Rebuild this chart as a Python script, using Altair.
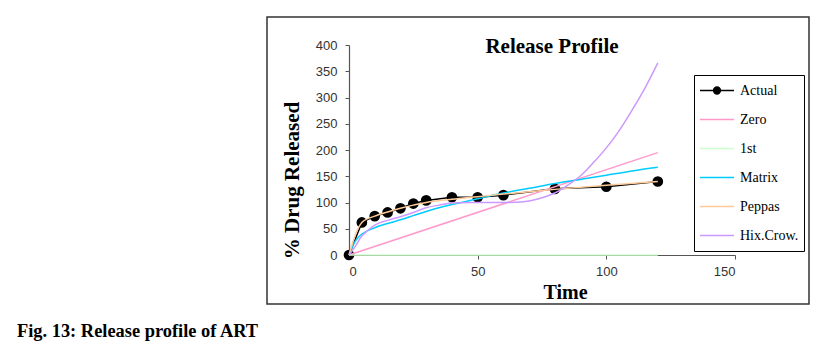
import altair as alt
import pandas as pd

# ---- text ----
title_text = "Release Profile"
caption_text = "Fig. 13: Release profile of ART"
x_title = "Time"
y_title = "% Drug Released"

# ---- series ----
series_names = ["Actual", "Zero", "1st", "Matrix", "Peppas", "Hix.Crow."]
series_colors = ["#000000", "#FF99CC", "#CCFFCC", "#00CCFF", "#FFCC99", "#CC99FF"]

actual_t = [0, 5, 10, 15, 20, 25, 30, 40, 50, 60, 80, 100, 120]
actual_v = [0, 62, 74, 81, 89, 98, 104, 110, 110, 114, 126, 130, 140]

zero_t = [0, 120]
zero_v = [0, 195]

first_t = [0, 120]
first_v = [0, 0]

matrix_t = [0, 2.5, 5, 10, 15, 20, 25, 30, 40, 50, 60, 70, 80, 90, 100, 110, 120]
matrix_v = [0, 27, 40, 52, 60, 67, 75, 83, 96, 107, 118, 127, 136, 144, 152, 160, 167]

peppas_t = [0, 5, 10, 15, 20, 25, 30, 40, 50, 60, 80, 100, 120]
peppas_v = [0, 62, 74, 82, 89, 95, 100, 106, 111, 116, 125, 133, 140]

hix_t = [0, 2.5, 5, 10, 15, 20, 25, 30, 35, 40, 50, 60, 70, 80, 85, 90, 95, 100, 105, 110, 115, 120]
hix_v = [0, 17, 36, 57, 66, 73, 81, 90, 95, 99, 100, 100, 103, 118, 133, 151, 176, 204, 237, 276, 318, 366]

x_ticks = [0, 50, 100, 150]
y_ticks = [0, 50, 100, 150, 200, 250, 300, 350, 400]

# ---- tables ----
rows = []
for name, ts, vs in [("Zero", zero_t, zero_v), ("1st", first_t, first_v),
                     ("Matrix", matrix_t, matrix_v), ("Peppas", peppas_t, peppas_v),
                     ("Hix.Crow.", hix_t, hix_v)]:
    for t, v in zip(ts, vs):
        rows.append({"series": name, "t": t, "v": v, "order": series_names.index(name)})
models_df = pd.DataFrame(rows)
actual_df = pd.DataFrame({"series": "Actual", "t": actual_t, "v": actual_v})
caption_df = pd.DataFrame({"text": [caption_text]})
frame_df = pd.DataFrame({"k": [0]})

PLOT_W, PLOT_H = 386, 210

x_enc = alt.X("t:Q", scale=alt.Scale(domain=[0, 150], nice=False),
              axis=alt.Axis(values=x_ticks, title=x_title, grid=False, tickSize=4,
                            labelPadding=6, titleX=216, titleY=43,
                            titleBaseline="alphabetic", titleAlign="center"))
y_enc = alt.Y("v:Q", scale=alt.Scale(domain=[0, 400], nice=False),
              axis=alt.Axis(values=y_ticks, title=y_title, grid=False, tickSize=4,
                            labelPadding=8, titleX=-57, titleY=135, titleAngle=270,
                            titleBaseline="middle", titleAlign="center"))

actual_path = "M-1,0H1M-0.2,0A0.2,0.2,0,1,1,0.2,0A0.2,0.2,0,1,1,-0.2,0Z"
legend = alt.Legend(
    orient="none", legendX=345, legendY=30, title=None,
    symbolType=alt.ExprRef(f"datum.value === 'Actual' ? '{actual_path}' : 'stroke'"),
    symbolFillColor=alt.ExprRef("datum.value === 'Actual' ? 'black' : 'transparent'"),
    symbolSize=1156, symbolStrokeWidth=1.5,
    labelFont="Liberation Serif", labelFontSize=14, labelColor="black",
    labelOffset=5, padding=5, rowPadding=8, clipHeight=21,
    strokeColor="black", fillColor="white",
)
color_enc = alt.Color("series:N", scale=alt.Scale(domain=series_names, range=series_colors),
                      legend=legend)

frame = alt.Chart(frame_df).mark_rect(filled=False, stroke="#333333", strokeWidth=1.5).encode(
    x=alt.value(-82), x2=alt.value(460), y=alt.value(-28), y2=alt.value(259))

actual_line = alt.Chart(actual_df).mark_line(strokeWidth=1.5).encode(
    x=x_enc, y=y_enc, color=color_enc)
actual_pts = alt.Chart(actual_df).mark_point(filled=True, size=115, opacity=1).encode(
    x=x_enc, y=y_enc, color=alt.value("black"))

models = alt.Chart(models_df).mark_line(strokeWidth=1.5, interpolate="catmull-rom").encode(
    x=x_enc, y=y_enc, color=color_enc, detail="series:N", order="order:Q")

caption = alt.Chart(caption_df).mark_text(
    font="Liberation Serif", fontSize=18.4, fontWeight="bold", align="left",
    baseline="alphabetic", color="black").encode(
    text="text:N", x=alt.value(-332), y=alt.value(292))

chart = alt.layer(frame, actual_line, actual_pts, models, caption).properties(
    width=PLOT_W, height=PLOT_H,
    title=alt.TitleParams(title_text, font="Liberation Serif", fontSize=21, fontWeight="bold",
                          anchor="middle", dx=10, baseline="alphabetic", offset=0, dy=57.5,
                          color="black"),
    autosize=alt.AutoSizeParams(type="none"),
    padding={"left": 349, "top": 45, "right": 832 - 349 - PLOT_W, "bottom": 352 - 45 - PLOT_H},
).configure(font="Liberation Serif").configure_view(stroke=None).configure_axis(
    labelFont="Liberation Sans", labelFontSize=13, labelColor="#333333",
    titleFont="Liberation Serif", titleFontSize=21, titleFontWeight="bold", titleColor="black",
    domainColor="#555555", tickColor="#555555", domainWidth=1.2,
).configure_axisX(titleFontSize=20).configure_legend(
    labelFont="Liberation Serif", labelFontSize=14, labelColor="black",
)

chart.save("out.html", embed_options={"renderer": "svg", "actions": False})
